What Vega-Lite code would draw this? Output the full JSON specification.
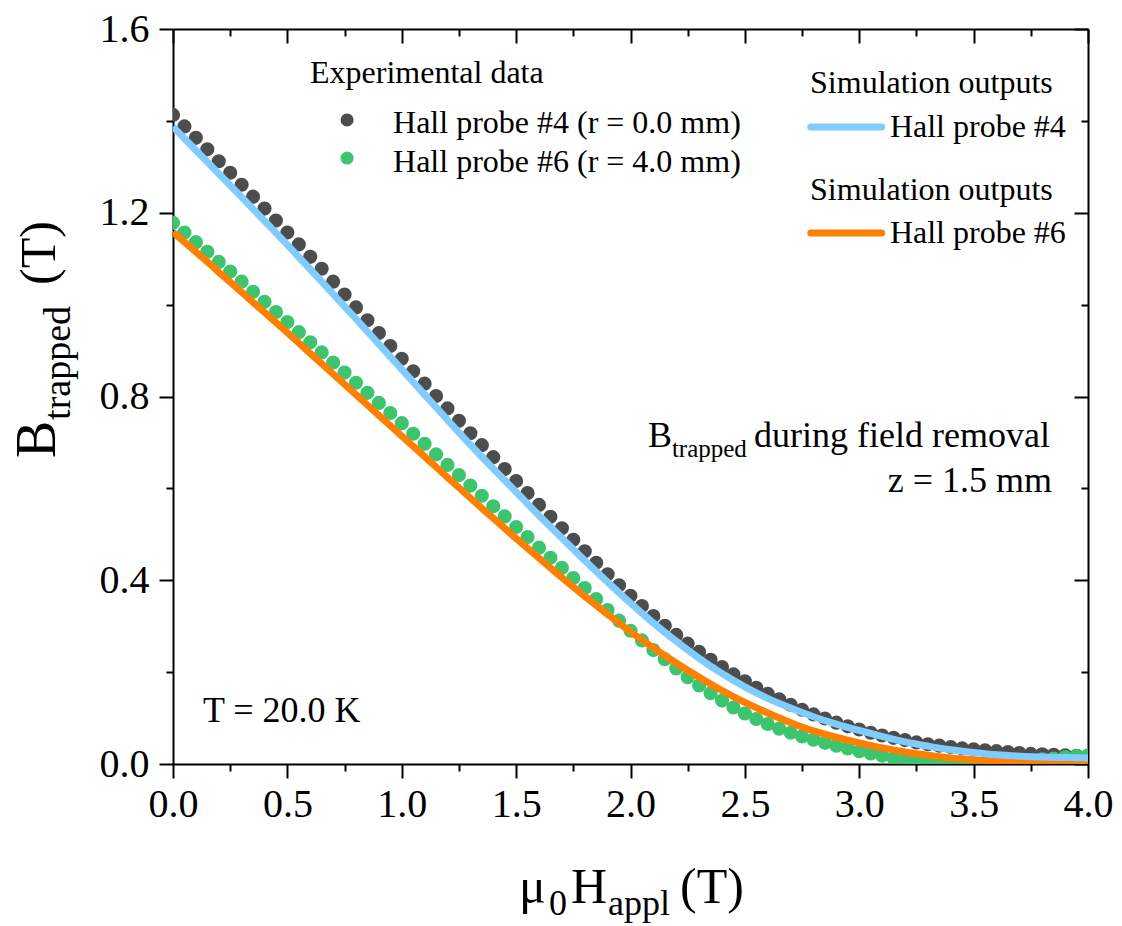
{
  "$schema": "https://vega.github.io/schema/vega-lite/v6.json",
  "width": 915,
  "height": 735,
  "autosize": {"type": "none"},
  "padding": {"left": 173, "top": 29, "right": 34, "bottom": 162},
  "background": "white",
  "config": {
    "font": "Liberation Serif",
    "view": {"stroke": null},
    "axis": {
      "grid": false,
      "domainColor": "black",
      "domainWidth": 2,
      "tickColor": "black",
      "tickWidth": 2,
      "labelColor": "black",
      "labelFont": "Liberation Serif",
      "labelFontSize": 40,
      "labelFlush": false,
      "labelOverlap": false,
      "title": null
    },
    "text": {"font": "Liberation Serif", "color": "black", "baseline": "alphabetic"}
  },
  "datasets": {
    "one": [{"k": 1}],
    "exp4": [
      {"H":0.00,"B":1.413},{"H":0.05,"B":1.388},{"H":0.10,"B":1.363},{"H":0.15,"B":1.338},{"H":0.20,"B":1.312},{"H":0.25,"B":1.287},{"H":0.30,"B":1.261},{"H":0.35,"B":1.235},{"H":0.40,"B":1.209},{"H":0.45,"B":1.183},{"H":0.50,"B":1.157},{"H":0.55,"B":1.131},{"H":0.60,"B":1.104},{"H":0.65,"B":1.078},{"H":0.70,"B":1.050},{"H":0.75,"B":1.022},{"H":0.80,"B":0.994},{"H":0.85,"B":0.966},{"H":0.90,"B":0.938},{"H":0.95,"B":0.910},{"H":1.00,"B":0.882},{"H":1.05,"B":0.855},{"H":1.10,"B":0.828},{"H":1.15,"B":0.801},{"H":1.20,"B":0.774},{"H":1.25,"B":0.747},{"H":1.30,"B":0.720},{"H":1.35,"B":0.694},{"H":1.40,"B":0.668},{"H":1.45,"B":0.642},{"H":1.50,"B":0.616},{"H":1.55,"B":0.590},{"H":1.60,"B":0.564},{"H":1.65,"B":0.538},{"H":1.70,"B":0.513},{"H":1.75,"B":0.488},{"H":1.80,"B":0.463},{"H":1.85,"B":0.438},{"H":1.90,"B":0.413},{"H":1.95,"B":0.389},{"H":2.00,"B":0.366},{"H":2.05,"B":0.344},{"H":2.10,"B":0.322},{"H":2.15,"B":0.301},{"H":2.20,"B":0.281},{"H":2.25,"B":0.262},{"H":2.30,"B":0.244},{"H":2.35,"B":0.227},{"H":2.40,"B":0.211},{"H":2.45,"B":0.195},{"H":2.50,"B":0.180},{"H":2.55,"B":0.166},{"H":2.60,"B":0.153},{"H":2.65,"B":0.141},{"H":2.70,"B":0.129},{"H":2.75,"B":0.118},{"H":2.80,"B":0.108},{"H":2.85,"B":0.099},{"H":2.90,"B":0.090},{"H":2.95,"B":0.082},{"H":3.00,"B":0.075},{"H":3.05,"B":0.068},{"H":3.10,"B":0.062},{"H":3.15,"B":0.057},{"H":3.20,"B":0.052},{"H":3.25,"B":0.047},{"H":3.30,"B":0.043},{"H":3.35,"B":0.040},{"H":3.40,"B":0.037},{"H":3.45,"B":0.034},{"H":3.50,"B":0.032},{"H":3.55,"B":0.030},{"H":3.60,"B":0.028},{"H":3.65,"B":0.026},{"H":3.70,"B":0.024},{"H":3.75,"B":0.022},{"H":3.80,"B":0.021},{"H":3.85,"B":0.020},{"H":3.90,"B":0.019},{"H":3.95,"B":0.018},{"H":4.00,"B":0.017}
    ],
    "exp6": [
      {"H":0.00,"B":1.178},{"H":0.05,"B":1.157},{"H":0.10,"B":1.136},{"H":0.15,"B":1.115},{"H":0.20,"B":1.093},{"H":0.25,"B":1.072},{"H":0.30,"B":1.050},{"H":0.35,"B":1.028},{"H":0.40,"B":1.006},{"H":0.45,"B":0.984},{"H":0.50,"B":0.962},{"H":0.55,"B":0.940},{"H":0.60,"B":0.918},{"H":0.65,"B":0.896},{"H":0.70,"B":0.874},{"H":0.75,"B":0.852},{"H":0.80,"B":0.830},{"H":0.85,"B":0.808},{"H":0.90,"B":0.786},{"H":0.95,"B":0.764},{"H":1.00,"B":0.742},{"H":1.05,"B":0.719},{"H":1.10,"B":0.697},{"H":1.15,"B":0.674},{"H":1.20,"B":0.651},{"H":1.25,"B":0.629},{"H":1.30,"B":0.606},{"H":1.35,"B":0.584},{"H":1.40,"B":0.561},{"H":1.45,"B":0.539},{"H":1.50,"B":0.516},{"H":1.55,"B":0.494},{"H":1.60,"B":0.471},{"H":1.65,"B":0.449},{"H":1.70,"B":0.427},{"H":1.75,"B":0.405},{"H":1.80,"B":0.383},{"H":1.85,"B":0.359},{"H":1.90,"B":0.335},{"H":1.95,"B":0.312},{"H":2.00,"B":0.290},{"H":2.05,"B":0.269},{"H":2.10,"B":0.248},{"H":2.15,"B":0.228},{"H":2.20,"B":0.208},{"H":2.25,"B":0.189},{"H":2.30,"B":0.171},{"H":2.35,"B":0.154},{"H":2.40,"B":0.138},{"H":2.45,"B":0.123},{"H":2.50,"B":0.110},{"H":2.55,"B":0.098},{"H":2.60,"B":0.087},{"H":2.65,"B":0.077},{"H":2.70,"B":0.068},{"H":2.75,"B":0.060},{"H":2.80,"B":0.053},{"H":2.85,"B":0.046},{"H":2.90,"B":0.040},{"H":2.95,"B":0.034},{"H":3.00,"B":0.028},{"H":3.05,"B":0.023},{"H":3.10,"B":0.018},{"H":3.15,"B":0.013},{"H":3.20,"B":0.009},{"H":3.25,"B":0.006},{"H":3.30,"B":0.004},{"H":3.35,"B":0.003},{"H":3.40,"B":0.002},{"H":3.45,"B":0.002},{"H":3.50,"B":0.002},{"H":3.55,"B":0.003},{"H":3.60,"B":0.004},{"H":3.65,"B":0.005},{"H":3.70,"B":0.006},{"H":3.75,"B":0.008},{"H":3.80,"B":0.010},{"H":3.85,"B":0.012},{"H":3.90,"B":0.015},{"H":3.95,"B":0.017},{"H":4.00,"B":0.019}
    ],
    "sim4": [
      {"H":0.0,"B":1.387},{"H":0.1,"B":1.336},{"H":0.2,"B":1.285},{"H":0.3,"B":1.234},{"H":0.4,"B":1.182},{"H":0.5,"B":1.130},{"H":0.6,"B":1.077},{"H":0.7,"B":1.023},{"H":0.8,"B":0.969},{"H":0.9,"B":0.914},{"H":1.0,"B":0.859},{"H":1.1,"B":0.804},{"H":1.2,"B":0.749},{"H":1.3,"B":0.695},{"H":1.4,"B":0.643},{"H":1.5,"B":0.592},{"H":1.6,"B":0.541},{"H":1.7,"B":0.492},{"H":1.8,"B":0.443},{"H":1.9,"B":0.396},{"H":2.0,"B":0.350},{"H":2.1,"B":0.307},{"H":2.2,"B":0.267},{"H":2.3,"B":0.230},{"H":2.4,"B":0.197},{"H":2.5,"B":0.168},{"H":2.6,"B":0.143},{"H":2.7,"B":0.122},{"H":2.8,"B":0.103},{"H":2.9,"B":0.087},{"H":3.0,"B":0.073},{"H":3.1,"B":0.060},{"H":3.2,"B":0.048},{"H":3.3,"B":0.039},{"H":3.4,"B":0.031},{"H":3.5,"B":0.025},{"H":3.6,"B":0.020},{"H":3.7,"B":0.017},{"H":3.8,"B":0.015},{"H":3.9,"B":0.014},{"H":4.0,"B":0.013}
    ],
    "sim6": [
      {"H":0.0,"B":1.158},{"H":0.1,"B":1.115},{"H":0.2,"B":1.071},{"H":0.3,"B":1.027},{"H":0.4,"B":0.983},{"H":0.5,"B":0.939},{"H":0.6,"B":0.894},{"H":0.7,"B":0.849},{"H":0.8,"B":0.804},{"H":0.9,"B":0.759},{"H":1.0,"B":0.714},{"H":1.1,"B":0.669},{"H":1.2,"B":0.624},{"H":1.3,"B":0.579},{"H":1.4,"B":0.535},{"H":1.5,"B":0.491},{"H":1.6,"B":0.448},{"H":1.7,"B":0.406},{"H":1.8,"B":0.365},{"H":1.9,"B":0.326},{"H":2.0,"B":0.288},{"H":2.1,"B":0.253},{"H":2.2,"B":0.220},{"H":2.3,"B":0.189},{"H":2.4,"B":0.160},{"H":2.5,"B":0.134},{"H":2.6,"B":0.111},{"H":2.7,"B":0.090},{"H":2.8,"B":0.072},{"H":2.9,"B":0.058},{"H":3.0,"B":0.046},{"H":3.1,"B":0.035},{"H":3.2,"B":0.026},{"H":3.3,"B":0.019},{"H":3.4,"B":0.013},{"H":3.5,"B":0.009},{"H":3.6,"B":0.006},{"H":3.7,"B":0.005},{"H":3.8,"B":0.005},{"H":3.9,"B":0.005},{"H":4.0,"B":0.005}
    ]
  },
  "layer": [
    {
      "data": {"name": "exp4"},
      "mark": {"type": "point", "filled": true, "size": 200, "opacity": 1, "color": "#4D4D4D", "clip": true},
      "encoding": {
        "x": {"field": "H", "type": "quantitative", "scale": {"domain": [0, 4], "nice": false, "zero": false},
          "axis": {"orient": "bottom", "values": [0,0.25,0.5,0.75,1,1.25,1.5,1.75,2,2.25,2.5,2.75,3,3.25,3.5,3.75,4], "format": ".1f",
            "labelExpr": "datum.value % 0.5 === 0 ? datum.label : ''",
            "tickSize": {"condition": {"test": "datum.value % 0.5 === 0", "value": 14}, "value": 7},
            "labelPadding": 6}},
        "y": {"field": "B", "type": "quantitative", "scale": {"domain": [0, 1.6], "nice": false, "zero": false},
          "axis": {"orient": "left", "values": [0,0.2,0.4,0.6,0.8,1,1.2,1.4,1.6], "format": ".1f",
            "labelExpr": "round(datum.value*10) % 4 === 0 ? datum.label : ''",
            "tickSize": {"condition": {"test": "round(datum.value*10) % 4 === 0", "value": 14}, "value": 7},
            "labelPadding": 10}}
      }
    },
    {
      "data": {"name": "exp6"},
      "mark": {"type": "point", "filled": true, "size": 200, "opacity": 1, "color": "#3DC46F", "clip": true},
      "encoding": {
        "x": {"field": "H", "type": "quantitative",
          "axis": {"orient": "top", "values": [0,0.25,0.5,0.75,1,1.25,1.5,1.75,2,2.25,2.5,2.75,3,3.25,3.5,3.75,4], "labels": false,
            "tickSize": {"condition": {"test": "datum.value % 0.5 === 0", "value": -14}, "value": -7}}},
        "y": {"field": "B", "type": "quantitative",
          "axis": {"orient": "right", "values": [0,0.2,0.4,0.6,0.8,1,1.2,1.4,1.6], "labels": false,
            "tickSize": {"condition": {"test": "round(datum.value*10) % 4 === 0", "value": -14}, "value": -7}}}
      }
    },
    {
      "data": {"name": "sim6"},
      "mark": {"type": "line", "color": "#FF7F00", "strokeWidth": 7, "interpolate": "monotone", "clip": true},
      "encoding": {
        "x": {"field": "H", "type": "quantitative", "axis": null},
        "y": {"field": "B", "type": "quantitative", "axis": null}
      }
    },
    {
      "data": {"name": "sim4"},
      "mark": {"type": "line", "color": "#80CCFF", "strokeWidth": 7, "interpolate": "monotone", "clip": true},
      "encoding": {
        "x": {"field": "H", "type": "quantitative", "axis": null},
        "y": {"field": "B", "type": "quantitative", "axis": null}
      }
    },
    {
      "data": {"name": "one"},
      "layer": [
        {
          "mark": {"type": "point", "filled": true, "size": 170, "opacity": 1, "color": "#4D4D4D"},
          "encoding": {"x": {"datum": 0.761, "type": "quantitative", "axis": null}, "y": {"datum": 1.402, "type": "quantitative", "axis": null}}
        },
        {
          "mark": {"type": "point", "filled": true, "size": 170, "opacity": 1, "color": "#3DC46F"},
          "encoding": {"x": {"datum": 0.761, "type": "quantitative", "axis": null}, "y": {"datum": 1.319, "type": "quantitative", "axis": null}}
        },
        {
          "mark": {"type": "rule", "color": "#80CCFF", "strokeWidth": 7, "strokeCap": "round"},
          "encoding": {"x": {"datum": 2.788, "type": "quantitative", "axis": null}, "x2": {"datum": 3.098}, "y": {"datum": 1.3866, "type": "quantitative", "axis": null}}
        },
        {
          "mark": {"type": "rule", "color": "#FF7F00", "strokeWidth": 7, "strokeCap": "round"},
          "encoding": {"x": {"datum": 2.788, "type": "quantitative", "axis": null}, "x2": {"datum": 3.098}, "y": {"datum": 1.1559, "type": "quantitative", "axis": null}}
        },
        {
          "mark": {"type": "text", "text": "Experimental data", "fontSize": 32, "align": "left"},
          "encoding": {"x": {"datum": 0.599, "type": "quantitative", "axis": null}, "y": {"datum": 1.482, "type": "quantitative", "axis": null}}
        },
        {
          "mark": {"type": "text", "text": "Hall probe #4 (r = 0.0 mm)", "fontSize": 32, "align": "left"},
          "encoding": {"x": {"datum": 0.962, "type": "quantitative", "axis": null}, "y": {"datum": 1.3735, "type": "quantitative", "axis": null}}
        },
        {
          "mark": {"type": "text", "text": "Hall probe #6 (r = 4.0 mm)", "fontSize": 32, "align": "left"},
          "encoding": {"x": {"datum": 0.962, "type": "quantitative", "axis": null}, "y": {"datum": 1.2887, "type": "quantitative", "axis": null}}
        },
        {
          "mark": {"type": "text", "text": "Simulation outputs", "fontSize": 32, "align": "left"},
          "encoding": {"x": {"datum": 2.785, "type": "quantitative", "axis": null}, "y": {"datum": 1.4606, "type": "quantitative", "axis": null}}
        },
        {
          "mark": {"type": "text", "text": "Hall probe #4", "fontSize": 32, "align": "left"},
          "encoding": {"x": {"datum": 3.134, "type": "quantitative", "axis": null}, "y": {"datum": 1.3648, "type": "quantitative", "axis": null}}
        },
        {
          "mark": {"type": "text", "text": "Simulation outputs", "fontSize": 32, "align": "left"},
          "encoding": {"x": {"datum": 2.785, "type": "quantitative", "axis": null}, "y": {"datum": 1.2277, "type": "quantitative", "axis": null}}
        },
        {
          "mark": {"type": "text", "text": "Hall probe #6", "fontSize": 32, "align": "left"},
          "encoding": {"x": {"datum": 3.134, "type": "quantitative", "axis": null}, "y": {"datum": 1.1341, "type": "quantitative", "axis": null}}
        },
        {
          "mark": {"type": "text", "text": "B", "fontSize": 36, "align": "left"},
          "encoding": {"x": {"datum": 2.077, "type": "quantitative", "axis": null}, "y": {"datum": 0.690, "type": "quantitative", "axis": null}}
        },
        {
          "mark": {"type": "text", "text": "trapped", "fontSize": 25, "align": "left"},
          "encoding": {"x": {"datum": 2.181, "type": "quantitative", "axis": null}, "y": {"datum": 0.668, "type": "quantitative", "axis": null}}
        },
        {
          "mark": {"type": "text", "text": "during field removal", "fontSize": 36, "align": "right"},
          "encoding": {"x": {"datum": 3.834, "type": "quantitative", "axis": null}, "y": {"datum": 0.690, "type": "quantitative", "axis": null}}
        },
        {
          "mark": {"type": "text", "text": "z = 1.5 mm", "fontSize": 36, "align": "right"},
          "encoding": {"x": {"datum": 3.843, "type": "quantitative", "axis": null}, "y": {"datum": 0.592, "type": "quantitative", "axis": null}}
        },
        {
          "mark": {"type": "text", "text": "T = 20.0 K", "fontSize": 36, "align": "left"},
          "encoding": {"x": {"datum": 0.131, "type": "quantitative", "axis": null}, "y": {"datum": 0.0914, "type": "quantitative", "axis": null}}
        },
        {
          "mark": {"type": "text", "text": "μ", "fontSize": 50, "align": "left"},
          "encoding": {"x": {"datum": 1.5126, "type": "quantitative", "axis": null}, "y": {"datum": -0.3026, "type": "quantitative", "axis": null}}
        },
        {
          "mark": {"type": "text", "text": "0", "fontSize": 36, "align": "left"},
          "encoding": {"x": {"datum": 1.6437, "type": "quantitative", "axis": null}, "y": {"datum": -0.3287, "type": "quantitative", "axis": null}}
        },
        {
          "mark": {"type": "text", "text": "H", "fontSize": 50, "align": "left"},
          "encoding": {"x": {"datum": 1.7400, "type": "quantitative", "axis": null}, "y": {"datum": -0.3026, "type": "quantitative", "axis": null}}
        },
        {
          "mark": {"type": "text", "text": "appl", "fontSize": 36, "align": "left"},
          "encoding": {"x": {"datum": 1.9020, "type": "quantitative", "axis": null}, "y": {"datum": -0.3287, "type": "quantitative", "axis": null}}
        },
        {
          "mark": {"type": "text", "text": "(T)", "fontSize": 50, "align": "left"},
          "encoding": {"x": {"datum": 2.2164, "type": "quantitative", "axis": null}, "y": {"datum": -0.3026, "type": "quantitative", "axis": null}}
        },
        {
          "mark": {"type": "text", "text": "B", "fontSize": 56, "align": "left", "angle": 270},
          "encoding": {"x": {"datum": -0.5158, "type": "quantitative", "axis": null}, "y": {"datum": 0.6660, "type": "quantitative", "axis": null}}
        },
        {
          "mark": {"type": "text", "text": "trapped", "fontSize": 38, "align": "left", "angle": 270},
          "encoding": {"x": {"datum": -0.450, "type": "quantitative", "axis": null}, "y": {"datum": 0.7490, "type": "quantitative", "axis": null}}
        },
        {
          "mark": {"type": "text", "text": "(T)", "fontSize": 50, "align": "left", "angle": 270},
          "encoding": {"x": {"datum": -0.5158, "type": "quantitative", "axis": null}, "y": {"datum": 1.0427, "type": "quantitative", "axis": null}}
        }
      ]
    }
  ],
  "resolve": {"axis": {"x": "independent", "y": "independent"}}
}
